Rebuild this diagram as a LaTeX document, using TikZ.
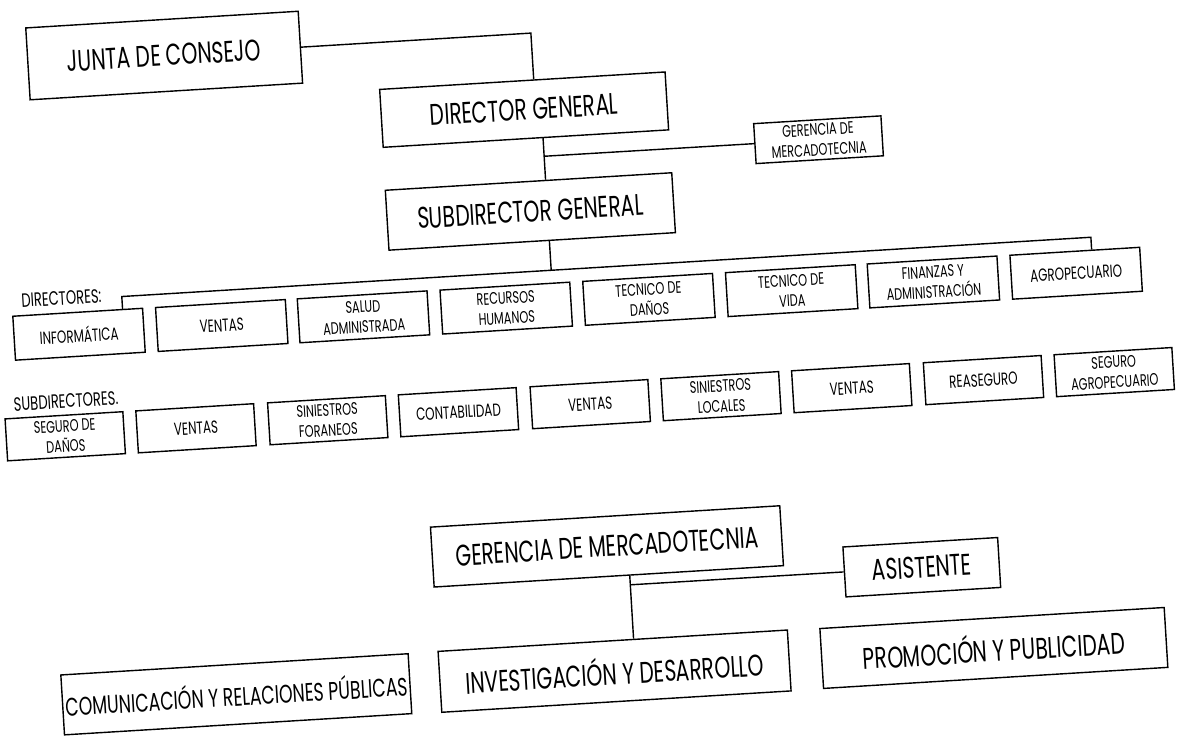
\documentclass[tikz,border=0pt]{standalone}
\usepackage{fontspec}
\usepackage{tikz}
\usetikzlibrary{positioning,calc}
\setmainfont{Poppins}[FakeStretch=0.68]

\begin{document}
\begin{tikzpicture}[x=0.02cm,y=-0.02cm,line width=0.8pt,
  orgbox/.style={draw,inner sep=0pt,align=center},
  bigtxt/.style={font=\fontsize{17}{19}\selectfont},
  midtxt/.style={font=\fontsize{10}{11}\selectfont},
  twotxt/.style={font=\fontsize{9.5}{11.5}\selectfont},
  lbltxt/.style={font=\fontsize{11}{12}\selectfont},
  dirbox/.style={orgbox,minimum width=2.6cm,minimum height=0.88cm},
  subbox/.style={orgbox,minimum width=2.36cm,minimum height=0.84cm}]
\useasboundingbox (0,0) rectangle (1183,735);
\begin{scope}[rotate around={3.5:(591.5,367.5)},transform shape]
% top of the chart
\node[orgbox,bigtxt,minimum width=5.46cm,minimum height=1.44cm] (junta) at (184,30) {JUNTA DE CONSEJO};
\node[orgbox,bigtxt,minimum width=5.72cm,minimum height=1.16cm] (dg) at (540,106) {DIRECTOR GENERAL};
\node[orgbox,twotxt,minimum width=2.55cm,minimum height=0.8cm] (gmsmall) at (832,154) {GERENCIA DE\\MERCADOTECNIA};
\node[orgbox,bigtxt,minimum width=5.74cm,minimum height=1.2cm] (sdg) at (540,208) {SUBDIRECTOR GENERAL};

% directores
\node[lbltxt,anchor=west] (dirlabel) at (20,266) {DIRECTORES:};
\node[dirbox,midtxt] (d1) at (82,303) {INFORMÁTICA};
\node[dirbox,midtxt] (d2) at (225,303) {VENTAS};
\node[dirbox,twotxt] (d3) at (367,303) {SALUD\\ADMINISTRADA};
\node[dirbox,twotxt] (d4) at (510,303) {RECURSOS\\HUMANOS};
\node[dirbox,twotxt] (d5) at (653,303) {TECNICO DE\\DAÑOS};
\node[dirbox,twotxt] (d6) at (796,303) {TECNICO DE\\VIDA};
\node[dirbox,twotxt] (d7) at (938,303) {FINANZAS Y\\ADMINISTRACIÓN};
\node[dirbox,midtxt] (d8) at (1081,303) {AGROPECUARIO};

% subdirectores
\node[lbltxt,anchor=west] (sublabel) at (6,369) {SUBDIRECTORES.};
\node[subbox,twotxt] (s1) at (62,404) {SEGURO DE\\DAÑOS};
\node[subbox,midtxt] (s2) at (193,404) {VENTAS};
\node[subbox,twotxt] (s3) at (325,404) {SINIESTROS\\FORANEOS};
\node[subbox,midtxt] (s4) at (456,404) {CONTABILIDAD};
\node[subbox,midtxt] (s5) at (588,404) {VENTAS};
\node[subbox,twotxt] (s6) at (719,404) {SINIESTROS\\LOCALES};
\node[subbox,midtxt] (s7) at (850,404) {VENTAS};
\node[subbox,midtxt] (s8) at (982,404) {REASEGURO};
\node[subbox,twotxt] (s9) at (1113,404) {SEGURO\\AGROPECUARIO};

% gerencia de mercadotecnia
\node[orgbox,bigtxt,minimum width=7cm,minimum height=1.2cm] (gm) at (596,547) {GERENCIA DE MERCADOTECNIA};
\node[orgbox,bigtxt,minimum width=3.1cm,minimum height=1cm] (asist) at (909,587) {ASISTENTE};
\node[orgbox,font=\fontsize{14.5}{16}\selectfont,minimum width=6.96cm,minimum height=1.2cm] (com) at (217,672) {COMUNICACIÓN Y RELACIONES PÚBLICAS};
\node[orgbox,bigtxt,minimum width=7cm,minimum height=1.22cm] (inv) at (596,672) {INVESTIGACIÓN Y DESARROLLO};
\node[orgbox,bigtxt,minimum width=6.9cm,minimum height=1.2cm] (prom) at (976,672) {PROMOCIÓN Y PUBLICIDAD};

% connectors
\coordinate (dgt) at ($(dg.north)!0.08!(dg.north east)$);
\draw (junta.east) -- ($(junta.west)!(dgt)!(junta.east)$) -- (dgt);
\coordinate (dgl) at ($(dg.south)!0.12!(dg.south east)$);
\coordinate (sdt) at ($(sdg.north west)!(dgl)!(sdg.north east)$);
\draw (dgl) -- (sdt);
\draw (gmsmall.west) -- ($(dgl)!(gmsmall.west)!(sdt)$);
\coordinate (busl) at (127,268);
\coordinate (busr) at (1098,268);
\coordinate (sdl) at ($(sdg.south)!0.12!(sdg.south east)$);
\draw (sdl) -- ($(busl)!(sdl)!(busr)$);
\draw ($(d1.north west)!(busl)!(d1.north east)$) -- (busl) -- (busr)
  -- ($(d8.north west)!(busr)!(d8.north east)$);
\coordinate (gml) at ($(gm.south)!0.12!(gm.south east)$);
\coordinate (invt) at ($(inv.north west)!(gml)!(inv.north east)$);
\draw (gml) -- (invt);
\draw (asist.west) -- ($(gml)!(asist.west)!(invt)$);
\end{scope}
\end{tikzpicture}
\end{document}
